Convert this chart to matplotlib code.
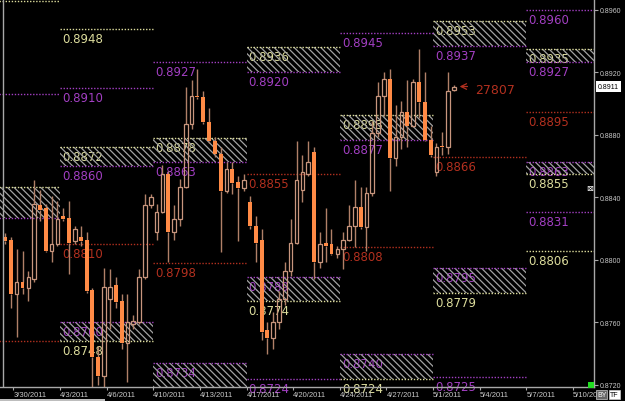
import numpy as np
import matplotlib
matplotlib.use("Agg")
import matplotlib.pyplot as plt
from matplotlib.patches import Rectangle
from matplotlib.ticker import FuncFormatter

# --- candles (one bar per slot, left to right) ---
opens = [0.8815, 0.8813, 0.8778, 0.8786, 0.8782, 0.8788, 0.8835, 0.8833, 0.8806, 0.8810,
         0.8828, 0.8827, 0.8812, 0.8815, 0.8813, 0.8781, 0.8738, 0.8726, 0.8775, 0.8784,
         0.8774, 0.8747, 0.8759, 0.8760, 0.8789, 0.8835, 0.8818, 0.8831, 0.8855, 0.8818,
         0.8826, 0.8847, 0.8887, 0.8905, 0.8904, 0.8888, 0.8876, 0.8868, 0.8844, 0.8858,
         0.8850, 0.8846, 0.8837, 0.8822, 0.8813, 0.8755, 0.8750, 0.8760, 0.8775, 0.8793,
         0.8811, 0.8845, 0.8855, 0.8869, 0.8799, 0.8811, 0.8810, 0.8804, 0.8807, 0.8813,
         0.8822, 0.8834, 0.8821, 0.8843, 0.8881, 0.8905, 0.8916, 0.8865, 0.8879, 0.8895,
         0.8886, 0.8914, 0.8901, 0.8877, 0.8856, 0.8873, 0.8872, 0.8909]
highs = [0.8817, 0.8815, 0.8807, 0.8806, 0.8793, 0.8851, 0.8845, 0.8836, 0.8841, 0.8838,
         0.8833, 0.8838, 0.8822, 0.8822, 0.8818, 0.8782, 0.8745, 0.8795, 0.8794, 0.8789,
         0.8778, 0.8778, 0.8765, 0.8794, 0.8842, 0.8842, 0.8836, 0.8861, 0.8857, 0.8835,
         0.8852, 0.8911, 0.8915, 0.8922, 0.8908, 0.8897, 0.8879, 0.8872, 0.8863, 0.8863,
         0.8854, 0.8855, 0.8841, 0.8828, 0.8820, 0.8760, 0.8767, 0.8780, 0.8799, 0.8826,
         0.8876, 0.8867, 0.8876, 0.8872, 0.8818, 0.8833, 0.8820, 0.8809, 0.8818, 0.8835,
         0.8851, 0.8847, 0.8847, 0.8889, 0.8914, 0.8920, 0.8922, 0.8899, 0.8902, 0.8915,
         0.8916, 0.8935, 0.8920, 0.8886, 0.8875, 0.8882, 0.8920, 0.8912]
lows = [0.8810, 0.8769, 0.8751, 0.8778, 0.8774, 0.8786, 0.8825, 0.8805, 0.8799, 0.8809,
        0.8825, 0.8791, 0.8810, 0.8809, 0.8779, 0.8719, 0.8720, 0.8717, 0.8756, 0.8769,
        0.8743, 0.8722, 0.8756, 0.8759, 0.8788, 0.8833, 0.8813, 0.8830, 0.8799, 0.8813,
        0.8822, 0.8846, 0.8884, 0.8903, 0.8887, 0.8875, 0.8866, 0.8805, 0.8843, 0.8842,
        0.8812, 0.8844, 0.8820, 0.8799, 0.8749, 0.8740, 0.8743, 0.8756, 0.8771, 0.8790,
        0.8810, 0.8837, 0.8854, 0.8788, 0.8795, 0.8799, 0.8803, 0.8801, 0.8794, 0.8812,
        0.8808, 0.8820, 0.8806, 0.8841, 0.8879, 0.8892, 0.8844, 0.8860, 0.8871, 0.8872,
        0.8885, 0.8891, 0.8876, 0.8866, 0.8854, 0.8867, 0.8868, 0.8908]
closes = [0.8812, 0.8778, 0.8786, 0.8782, 0.8789, 0.8836, 0.8832, 0.8806, 0.8810, 0.8826,
          0.8826, 0.8811, 0.8820, 0.8812, 0.8780, 0.8738, 0.8726, 0.8783, 0.8783, 0.8773,
          0.8747, 0.8760, 0.8761, 0.8789, 0.8835, 0.8840, 0.8831, 0.8855, 0.8818, 0.8826,
          0.8847, 0.8887, 0.8905, 0.8904, 0.8888, 0.8876, 0.8868, 0.8844, 0.8858, 0.8849,
          0.8846, 0.8851, 0.8822, 0.8811, 0.8754, 0.8750, 0.8760, 0.8775, 0.8793, 0.8811,
          0.8851, 0.8856, 0.8863, 0.8799, 0.8810, 0.8809, 0.8804, 0.8807, 0.8813, 0.8822,
          0.8834, 0.8821, 0.8843, 0.8881, 0.8905, 0.8916, 0.8865, 0.8879, 0.8895, 0.8886,
          0.8914, 0.8901, 0.8877, 0.8867, 0.8872, 0.8872, 0.8908, 0.8911]

dates = ["3/30/2011", "4/3/2011", "4/6/2011", "4/10/2011", "4/13/2011", "4/17/2011",
         "4/20/2011", "4/24/2011", "4/27/2011", "5/1/2011", "5/4/2011", "5/7/2011",
         "5/10/2011"]

# --- weekly levels (first week is cut at the left edge, last one is next week) ---
upper_top = [0.8847, 0.8872, 0.8878, 0.8936, 0.8893, 0.8953, 0.8935]
upper_bot = [0.8827, 0.8860, 0.8863, 0.8920, 0.8877, 0.8937, 0.8927]
lower_top = [np.nan, 0.8760, 0.8734, 0.8789, 0.8740, 0.8795, 0.8863]
lower_bot = [np.nan, 0.8748, 0.8712, 0.8774, 0.8724, 0.8779, 0.8855]
pivots = [0.8748, 0.8810, 0.8798, 0.8855, 0.8808, 0.8866, 0.8895]
purple_week = [0, 1, 2, 3, 4, 5, 6, 6]
purple_vals = [0.8906, 0.8910, 0.8927, 0.8724, 0.8945, 0.8725, 0.8960, 0.8831]
yellow_week = [0, 1, 6]
yellow_vals = [0.8966, 0.8948, 0.8806]

last_price = 0.8911
last_volume = "27807"

PURPLE = "#a23fc2"
YELLOW = "#dcdc9c"
RED = "#b2301f"
HATCH = "#a2a2a2"
BEAR = "#ff8a45"
BULL = "#c8967e"
WICK = "#b08068"
AXIS = "#a8a8a8"

plt.rcParams["hatch.linewidth"] = 0.9
plt.rcParams["hatch.color"] = HATCH

W, H = 625, 402
fig = plt.figure(figsize=(W / 100, H / 100), dpi=100, facecolor="black")
ax = fig.add_axes([0, 14 / H, 594 / W, 388 / H], facecolor="black")

xmin, xmax = -0.86, 101.03
ymin, ymax = 0.87187, 0.89670
ax.set_xlim(xmin, xmax)
ax.set_ylim(ymin, ymax)

week0, week_len = -6.57, 16
dot = (0, (1, 1.2))


def level(k, price, color):
    x0 = week0 + k * week_len
    ax.hlines(price, x0, x0 + week_len, colors=color, linestyles=dot, lw=1, zorder=2)
    if x0 >= xmin and price >= ymin:
        ax.annotate(f"{price:.4f}", xy=(x0, price), xytext=(2, -3),
                    textcoords="offset pixels", ha="left", va="top",
                    fontsize=8.5, color=color, zorder=0.8, annotation_clip=False)


def box(k, top, bot, top_color, bot_color):
    if np.isnan(top):
        return
    x0 = week0 + k * week_len
    ax.add_patch(Rectangle((x0, bot), week_len, top - bot, facecolor="none",
                           edgecolor=HATCH, hatch="\\\\\\\\\\", lw=0, zorder=1))
    level(k, top, top_color)
    level(k, bot, bot_color)


for k in range(len(pivots)):
    box(k, upper_top[k], upper_bot[k], YELLOW, PURPLE)
    box(k, lower_top[k], lower_bot[k], PURPLE, YELLOW)
    level(k, pivots[k], RED)
for k, v in zip(purple_week, purple_vals):
    level(k, v, PURPLE)
for k, v in zip(yellow_week, yellow_vals):
    level(k, v, YELLOW)

# --- candles ---
o, h, l, c = map(np.array, (opens, highs, lows, closes))
x = np.arange(len(o))
top = np.maximum(o, c)
bot = np.minimum(o, c)
ax.vlines(x, top, h, colors=WICK, lw=1, zorder=3)
ax.vlines(x, l, bot, colors=WICK, lw=1, zorder=3)
up = c >= o
ax.bar(x[~up], (top - bot)[~up], bottom=bot[~up], width=0.68, color=BEAR, zorder=4)
ax.bar(x[up], np.maximum(top - bot, 0.00004)[up], bottom=bot[up], width=0.62,
       facecolor="none", edgecolor=BULL, lw=0.9, zorder=4)

# last price marker and volume
ax.annotate("", xy=(x[-1] + 0.5, last_price), xytext=(x[-1] + 2.8, last_price),
            arrowprops=dict(arrowstyle="->", color=RED, lw=0.9), zorder=5)
ax.text(x[-1] + 3.6, last_price - 0.0002, last_volume, color=RED, fontsize=9,
        ha="left", va="center", zorder=5)

# --- axes ---
for side in ("top", "left"):
    ax.spines[side].set_visible(False)
for side in ("right", "bottom"):
    ax.spines[side].set_color(AXIS)
    ax.spines[side].set_linewidth(1)
ax.axvline(-0.34, color=AXIS, lw=1, zorder=6)

ax.yaxis.tick_right()
ax.set_yticks(np.arange(0.8720, 0.8961, 0.0040))
ax.yaxis.set_major_formatter(FuncFormatter(lambda v, _: f"{v:.4f}"))
ax.tick_params(axis="y", length=3, width=0.8, color=AXIS, labelcolor="#c8c8c8",
               labelsize=5, pad=1.5)
for t in ax.get_yticklabels():
    t.set_family("Liberation Sans")

ax.set_xticks(week0 + week_len / 2 * (np.arange(len(dates)) + 1))
ax.set_xticklabels(dates, ha="left")
ax.tick_params(axis="x", length=2, width=0.8, color=AXIS, labelcolor="#c8c8c8",
               labelsize=5.5, pad=1)
for t in ax.get_xticklabels():
    t.set_family("Liberation Sans")

ax.annotate(f"{last_price:.4f}", xy=(1, last_price), xycoords=("axes fraction", "data"),
            xytext=(4, 0), textcoords="offset pixels", ha="left", va="center",
            fontsize=5, color="black", family="Liberation Sans",
            bbox=dict(boxstyle="square,pad=0.25", fc="white", ec="none"),
            annotation_clip=False)

# --- little window furniture ---
fig.text(590 / W, 1 - 189 / H, "\u22a0", fontsize=6, color="white", ha="center", va="center")
fig.add_artist(Rectangle((588 / W, 13 / H), 6 / W, 6 / H, fc="#22dd22", ec="none"))
fig.add_artist(Rectangle((0, 0), 105 / W, 2 / H, fc="#bdbdbd", ec="none"))
fig.text(597 / W, 1 - 395.5 / H, "BY", fontsize=5, color="white", ha="left", va="center",
         family="Liberation Sans", bbox=dict(boxstyle="square,pad=0.15", fc="#666666", ec="#cccccc", lw=0.5))
fig.text(610 / W, 1 - 395.5 / H, "TF", fontsize=5, color="black", ha="left", va="center",
         family="Liberation Sans", bbox=dict(boxstyle="square,pad=0.15", fc="white", ec="#cccccc", lw=0.5))

fig.savefig("out.png", dpi=100, facecolor="black")
